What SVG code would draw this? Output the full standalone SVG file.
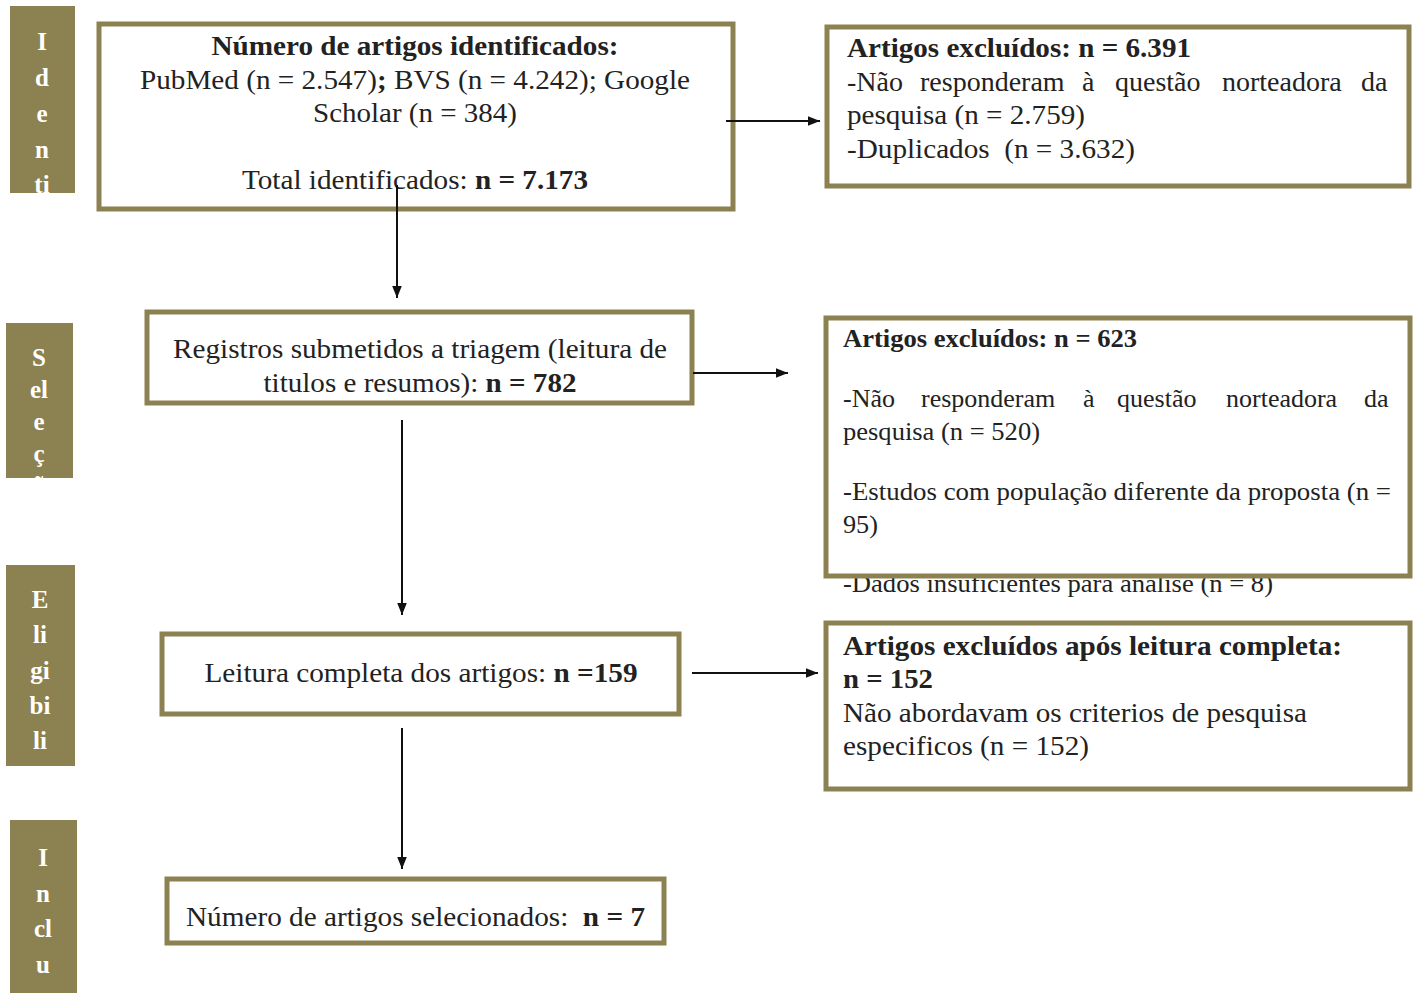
<svg xmlns="http://www.w3.org/2000/svg" width="1418" height="993" viewBox="0 0 1418 993">
<defs>
<style>
.side{fill:#8c8150;}
.sl{font-family:"Liberation Serif","Times New Roman",serif;font-weight:bold;font-size:25px;fill:#ffffff;text-anchor:middle;}
.box{fill:#ffffff;stroke:#8c8150;stroke-width:5;}
.t{font-family:"Liberation Serif","Times New Roman",serif;font-size:28px;fill:#222222;}
.s{font-size:26px;}
.c{text-anchor:middle;}
.b{font-weight:bold;}
.con{stroke:#111111;stroke-width:2;fill:none;marker-end:url(#ah);}
</style>
<marker id="ah" viewBox="0 0 10 10" refX="10" refY="5" markerWidth="6" markerHeight="6" orient="auto" markerUnits="strokeWidth">
<path d="M0,1 L10,5 L0,9 Z" fill="#111111"/>
</marker>
<clipPath id="c1"><rect x="10" y="6" width="65" height="187"/></clipPath>
<clipPath id="c2"><rect x="6" y="323" width="67" height="155"/></clipPath>
<clipPath id="c3"><rect x="6" y="565" width="69" height="201"/></clipPath>
<clipPath id="c4"><rect x="10" y="820" width="67" height="173"/></clipPath>
</defs>
<rect width="1418" height="993" fill="#ffffff"/>

<g id="stage-identificacao" clip-path="url(#c1)">
<rect class="side" x="10" y="6" width="65" height="187"/>
<text class="sl" x="42" y="50">I</text>
<text class="sl" x="42" y="86">d</text>
<text class="sl" x="42" y="122">e</text>
<text class="sl" x="42" y="158">n</text>
<text class="sl" x="42" y="193">ti</text>
</g>
<g id="stage-selecao" clip-path="url(#c2)">
<rect class="side" x="6" y="323" width="67" height="155"/>
<text class="sl" x="39" y="366">S</text>
<text class="sl" x="39" y="398">el</text>
<text class="sl" x="39" y="430">e</text>
<text class="sl" x="39" y="462">ç</text>
<text class="sl" x="39" y="494">ã</text>
</g>
<g id="stage-elegibilidade" clip-path="url(#c3)">
<rect class="side" x="6" y="565" width="69" height="201"/>
<text class="sl" x="40" y="608">E</text>
<text class="sl" x="40" y="643">li</text>
<text class="sl" x="40" y="679">gi</text>
<text class="sl" x="40" y="714">bi</text>
<text class="sl" x="40" y="749">li</text>
</g>
<g id="stage-inclusao" clip-path="url(#c4)">
<rect class="side" x="10" y="820" width="67" height="173"/>
<text class="sl" x="43" y="866">I</text>
<text class="sl" x="43" y="902">n</text>
<text class="sl" x="43" y="937">cl</text>
<text class="sl" x="43" y="973">u</text>
</g>

<g id="n-identificados">
<rect class="box" x="99" y="24" width="634" height="185"/>
<text class="t c b" x="415" y="55" textLength="407" lengthAdjust="spacingAndGlyphs">Número de artigos identificados:</text>
<text class="t c" x="415" y="89" textLength="550" lengthAdjust="spacingAndGlyphs">PubMed (n = 2.547)<tspan class="b">;</tspan> BVS (n = 4.242); Google</text>
<text class="t c" x="415" y="122" textLength="204" lengthAdjust="spacingAndGlyphs">Scholar (n = 384)</text>
<text class="t c" x="415" y="189" textLength="346" lengthAdjust="spacingAndGlyphs">Total identificados: <tspan class="b">n = 7.173</tspan></text>
</g>

<g id="n-excluidos1">
<rect class="box" x="827" y="27" width="582" height="159"/>
<text class="t b" x="847" y="57" textLength="344" lengthAdjust="spacingAndGlyphs">Artigos excluídos: n = 6.391</text>
<text class="t" y="91"><tspan x="847">-Não</tspan><tspan x="920">responderam</tspan><tspan x="1082">à</tspan><tspan x="1115">questão</tspan><tspan x="1222">norteadora</tspan><tspan x="1361">da</tspan></text>
<text class="t" x="847" y="124" textLength="238" lengthAdjust="spacingAndGlyphs">pesquisa (n = 2.759)</text>
<text class="t" x="847" y="158" textLength="288" lengthAdjust="spacingAndGlyphs" xml:space="preserve">-Duplicados  (n = 3.632)</text>
</g>

<g id="n-triagem">
<rect class="box" x="147" y="312" width="545" height="91"/>
<text class="t c" x="420" y="358" textLength="494" lengthAdjust="spacingAndGlyphs">Registros submetidos a triagem (leitura de</text>
<text class="t c" x="420" y="392" textLength="313" lengthAdjust="spacingAndGlyphs">titulos e resumos): <tspan class="b">n = 782</tspan></text>
</g>

<g id="n-excluidos2">
<text class="t s" x="843" y="592" textLength="430" lengthAdjust="spacingAndGlyphs">-Dados insuficientes para análise (n = 8)</text>
<rect class="box" x="826" y="318" width="584" height="258"/>
<text class="t s b" x="843" y="347" textLength="294" lengthAdjust="spacingAndGlyphs">Artigos excluídos: n = 623</text>
<text class="t s" y="407"><tspan x="843">-Não</tspan><tspan x="921">responderam</tspan><tspan x="1083">à</tspan><tspan x="1117">questão</tspan><tspan x="1226">norteadora</tspan><tspan x="1364">da</tspan></text>
<text class="t s" x="843" y="440" textLength="197" lengthAdjust="spacingAndGlyphs">pesquisa (n = 520)</text>
<text class="t s" x="843" y="500" textLength="548" lengthAdjust="spacingAndGlyphs">-Estudos com população diferente da proposta (n =</text>
<text class="t s" x="843" y="533" textLength="35" lengthAdjust="spacingAndGlyphs">95)</text>
</g>

<g id="n-leitura">
<rect class="box" x="162" y="634" width="517" height="80"/>
<text class="t c" x="421" y="682" textLength="433" lengthAdjust="spacingAndGlyphs">Leitura completa dos artigos: <tspan class="b">n =159</tspan></text>
</g>

<g id="n-excluidos3">
<rect class="box" x="826" y="623" width="584" height="166"/>
<text class="t b" x="843" y="655" textLength="499" lengthAdjust="spacingAndGlyphs">Artigos excluídos após leitura completa:</text>
<text class="t b" x="843" y="688" textLength="90" lengthAdjust="spacingAndGlyphs">n = 152</text>
<text class="t" x="843" y="722" textLength="464" lengthAdjust="spacingAndGlyphs">Não abordavam os criterios de pesquisa</text>
<text class="t" x="843" y="755" textLength="246" lengthAdjust="spacingAndGlyphs">especificos (n = 152)</text>
</g>

<g id="n-selecionados">
<rect class="box" x="167" y="879" width="497" height="64"/>
<text class="t" x="186" y="926" textLength="459" lengthAdjust="spacingAndGlyphs" xml:space="preserve">Número de artigos selecionados:  <tspan class="b">n = 7</tspan></text>
</g>

<g id="connectors">
<line class="con" x1="726" y1="121" x2="820" y2="121"/>
<line class="con" x1="397" y1="185" x2="397" y2="298"/>
<line class="con" x1="693" y1="373" x2="788" y2="373"/>
<line class="con" x1="402" y1="420" x2="402" y2="615"/>
<line class="con" x1="692" y1="673" x2="818" y2="673"/>
<line class="con" x1="402" y1="728" x2="402" y2="869"/>
</g>
</svg>
